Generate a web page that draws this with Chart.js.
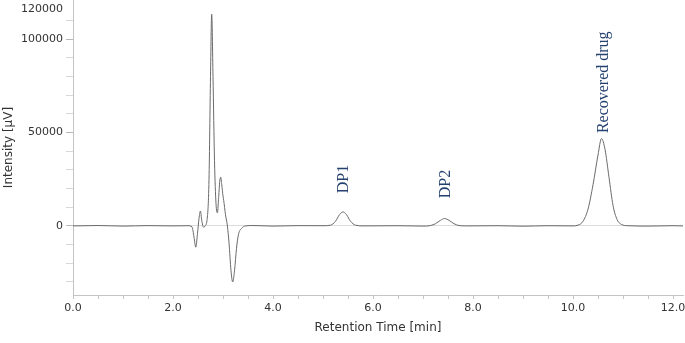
<!DOCTYPE html>
<html>
<head>
<meta charset="utf-8">
<script src="https://cdn.jsdelivr.net/npm/chart.js@4"></script>
<style>
  html, body { margin: 0; padding: 0; background: #fff; }
  canvas { display: block; }
</style>
</head>
<body>
<canvas id="chromChart" width="685" height="343"></canvas>
<script>
// retention time [min] and detector signal [µV]
const times = [
  0.0, 0.5, 1.0, 1.5, 2.0, 2.3, 2.38, 2.42, 2.455, 2.49, 2.52, 2.548, 2.575, 2.6, 2.62,
  2.64, 2.68, 2.72, 2.75, 2.774, 2.8, 2.83, 2.86, 2.888, 2.91, 2.935, 2.954, 2.975, 3.0,
  3.014, 3.05, 3.088, 3.12, 3.16, 3.194, 3.23, 3.27, 3.31, 3.37, 3.45, 3.6, 4.0, 4.5,
  5.0, 5.15, 5.25, 5.33, 5.4, 5.47, 5.55, 5.65, 5.8, 6.5, 7.0, 7.15, 7.25, 7.35, 7.434,
  7.52, 7.62, 7.72, 7.85, 8.5, 9.0, 9.5, 10.0, 10.1, 10.2, 10.3, 10.4, 10.5, 10.57,
  10.64, 10.72, 10.8, 10.88, 10.97, 11.1, 11.5, 12.0, 12.2
];
const intensity = [
  0, 200, -100, 150, 0, 100, -500, -6000, -11400, -4000, 4000, 8000, 3000, -300, -700,
  0, 3000, 25000, 80000, 113400, 80000, 35000, 12000, 7000, 14000, 24000, 26100, 22000, 16000,
  13700, 6000, 0, -9000, -24000, -30000, -24000, -12000, -4500, -1400, 0, 200, -100, 150,
  100, 400, 2500, 6000, 7500, 6000, 2500, 400, 0, 100, -100, 200, 1200, 3000, 3950,
  3000, 1200, 200, 0, 100, -150, 100, 0, 400, 2500, 9000, 22000, 38000, 46800,
  41000, 26000, 11000, 3500, 800, 100, -100, 100, 0
];

// peak annotations: text, retention time, signal level where the text starts
const peakNames = ["DP1", "DP2", "Recovered drug"];
const peakTimes = [5.41, 7.45, 10.62];
const peakTextBase = [17500, 14800, 49700];

// axis ticks
const xTickValues = [0, 0.5, 1, 1.5, 2, 2.5, 3, 3.5, 4, 4.5, 5, 5.5, 6, 6.5, 7, 7.5, 8, 8.5, 9, 9.5, 10, 10.5, 11, 11.5, 12];
const xTickLabels = ["0.0", "2.0", "4.0", "6.0", "8.0", "10.0", "12.0"];
const yTickValues = [-30000, -20000, -10000, 0, 10000, 20000, 30000, 40000, 50000, 60000, 70000, 80000, 90000, 100000, 110000, 120000];
const yTickLabels = ["0", "50000", "100000"];
const yTopLabel = "120000";

const axisFont = { family: "DejaVu Sans", size: 11 };
const titleFont = { family: "DejaVu Sans", size: 12 };

const peakLabelPlugin = {
  id: "peakLabels",
  afterDraw(chart) {
    const ctx = chart.ctx;
    const xs = chart.scales.x;
    const ys = chart.scales.y;
    ctx.save();
    ctx.fillStyle = "#24416f";
    ctx.font = "16px 'Liberation Serif'";
    ctx.textAlign = "left";
    ctx.textBaseline = "middle";
    peakNames.forEach((name, i) => {
      ctx.save();
      ctx.translate(xs.getPixelForValue(peakTimes[i]), ys.getPixelForValue(peakTextBase[i]));
      ctx.rotate(-Math.PI / 2);
      ctx.fillText(name, 0, 0);
      ctx.restore();
    });
    // top tick label sits a bit below its tick in the original
    ctx.fillStyle = "#333";
    ctx.font = "11px 'DejaVu Sans'";
    ctx.textAlign = "right";
    ctx.textBaseline = "middle";
    ctx.fillText(yTopLabel, ys.right - 10, ys.getPixelForValue(120000) + 7);
    ctx.restore();
  },
};

new Chart(document.getElementById("chromChart"), {
  type: "line",
  data: {
    datasets: [
      {
        data: times.map((t, i) => ({ x: t, y: intensity[i] })),
        borderColor: "#6a6a6a",
        borderWidth: 1,
        pointRadius: 0,
        tension: 0.3,
        cubicInterpolationMode: "monotone",
        fill: false,
      },
    ],
  },
  options: {
    responsive: false,
    animation: false,
    layout: { padding: { top: 0, right: 2, left: 0, bottom: 0 } },
    plugins: {
      legend: { display: false },
      tooltip: { enabled: false },
    },
    scales: {
      x: {
        type: "linear",
        min: 0,
        max: 12.2,
        afterBuildTicks: (scale) => {
          scale.ticks = xTickValues.map((v) => ({ value: v }));
        },
        afterFit: (scale) => {
          scale.height = 48;
          scale.paddingLeft = 0;
          scale.paddingRight = 0;
        },
        ticks: {
          autoSkip: false,
          maxRotation: 0,
          padding: 3,
          color: "#333",
          font: axisFont,
          callback: (v) => {
            const lbl = v.toFixed(1);
            return xTickLabels.includes(lbl) ? lbl : "";
          },
        },
        grid: {
          drawOnChartArea: false,
          tickLength: 4,
          tickColor: "#c4c4c4",
        },
        border: { color: "#c4c4c4" },
        title: {
          display: true,
          text: "Retention Time [min]",
          color: "#333",
          font: titleFont,
          padding: { top: 4, bottom: 8 },
        },
      },
      y: {
        min: -37000,
        max: 121000,
        afterBuildTicks: (scale) => {
          scale.ticks = yTickValues.map((v) => ({ value: v }));
        },
        afterFit: (scale) => {
          scale.width = 73;
          scale.paddingTop = 0;
          scale.paddingBottom = 0;
        },
        ticks: {
          autoSkip: false,
          padding: 3,
          color: "#333",
          font: axisFont,
          callback: (v) => {
            if (v === 120000) return null;
            return yTickLabels.includes(String(v)) ? String(v) : "";
          },
        },
        grid: {
          tickLength: 7,
          color: (c) => (c.tick && c.tick.value === 0 ? "#dcdcdc" : "rgba(0,0,0,0)"),
          tickColor: (c) => (c.tick && yTickLabels.includes(String(c.tick.value)) ? "#b8b8b8" : "#d8d8d8"),
        },
        border: { color: "#c4c4c4" },
        title: {
          display: true,
          text: "Intensity [µV]",
          color: "#333",
          font: titleFont,
          padding: { top: 2, bottom: 4 },
        },
      },
    },
  },
  plugins: [peakLabelPlugin],
});
</script>
</body>
</html>
